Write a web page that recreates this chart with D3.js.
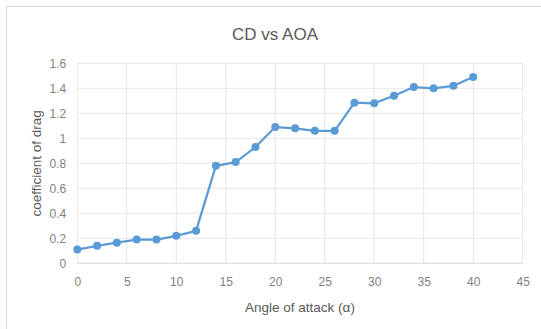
<!DOCTYPE html>
<html><head><meta charset="utf-8">
<script src="https://cdn.jsdelivr.net/npm/d3@7"></script>
<style>
html,body{margin:0;padding:0;background:#fff;}
svg{display:block;}
text{font-family:"Liberation Sans","DejaVu Sans",sans-serif;fill:#595959;}
</style></head>
<body>
<svg id="c" width="541" height="329"></svg>
<script>
const angles = [0,2,4,6,8,10,12,14,16,18,20,22,24,26,28,30,32,34,36,38,40];
const cd = [0.11,0.14,0.165,0.19,0.19,0.22,0.26,0.78,0.81,0.93,1.09,1.08,1.06,1.06,1.285,1.28,1.34,1.41,1.40,1.42,1.49];
const xTicks = [0,5,10,15,20,25,30,35,40,45];
const yTicks = [0,0.2,0.4,0.6,0.8,1,1.2,1.4,1.6];
const title = "CD vs AOA";
const xTitle = "Angle of attack (\u03b1)";
const yTitle = "coefficient of drag";

const svg = d3.select("#c");
const W = 541, H = 329;
const m = {left:77.3, right:522.7, top:63.3, bottom:263.3};

// outer frame
svg.append("rect").attr("x",6.5).attr("y",6.5).attr("width",W).attr("height",H)
  .attr("fill","#fff").attr("stroke","#d9d9d9").attr("stroke-width",1);

const x = d3.scaleLinear().domain([0,45]).range([m.left,m.right]);
const y = d3.scaleLinear().domain([0,1.6]).range([m.bottom,m.top]);

// gridlines
const g = svg.append("g");
g.selectAll(".hg").data(yTicks).enter().append("line")
  .attr("x1",m.left).attr("x2",m.right)
  .attr("y1",d=>y(d)).attr("y2",d=>y(d))
  .attr("stroke",d=>d===0?"#d9d9d9":"#e6e6e6").attr("stroke-width",1);
g.selectAll(".vg").data(xTicks).enter().append("line")
  .attr("y1",m.top).attr("y2",m.bottom)
  .attr("x1",d=>x(d)).attr("x2",d=>x(d))
  .attr("stroke","#e6e6e6").attr("stroke-width",1);

// axes (labels only)
const xAxis = d3.axisBottom(x).tickValues(xTicks).tickSize(0).tickPadding(0).tickFormat(d3.format("d"));
const xa = svg.append("g").attr("transform",`translate(0,${m.bottom})`).call(xAxis);
xa.select(".domain").remove();
xa.selectAll("text").attr("y",23).attr("dy",0).style("font-size","12px").style("fill","#7f7f7f");

const yAxis = d3.axisLeft(y).tickValues(yTicks).tickSize(0).tickPadding(0).tickFormat(d=>String(d));
const ya = svg.append("g").attr("transform",`translate(${m.left-11},0)`).call(yAxis);
ya.select(".domain").remove();
ya.selectAll("text").attr("dy","0.35em").style("font-size","12px").style("fill","#7f7f7f");

// line
const line = d3.line().x((d,i)=>x(angles[i])).y(d=>y(d));
svg.append("path").datum(cd).attr("d",line).attr("fill","none")
  .attr("stroke","#5b9bd5").attr("stroke-width",2.25).attr("stroke-linejoin","round");
svg.selectAll(".pt").data(cd).enter().append("circle")
  .attr("cx",(d,i)=>x(angles[i])).attr("cy",d=>y(d)).attr("r",4)
  .attr("fill","#5b9bd5");

// titles
svg.append("text").attr("x",275).attr("y",40).attr("text-anchor","middle")
  .style("font-size","17px").text(title);
svg.append("text").attr("x",(m.left+m.right)/2).attr("y",312).attr("text-anchor","middle")
  .style("font-size","13.5px").text(xTitle);
svg.append("text").attr("transform",`translate(41,${(m.top+m.bottom)/2}) rotate(-90)`)
  .attr("text-anchor","middle").style("font-size","13.5px").text(yTitle);
</script>
</body></html>
